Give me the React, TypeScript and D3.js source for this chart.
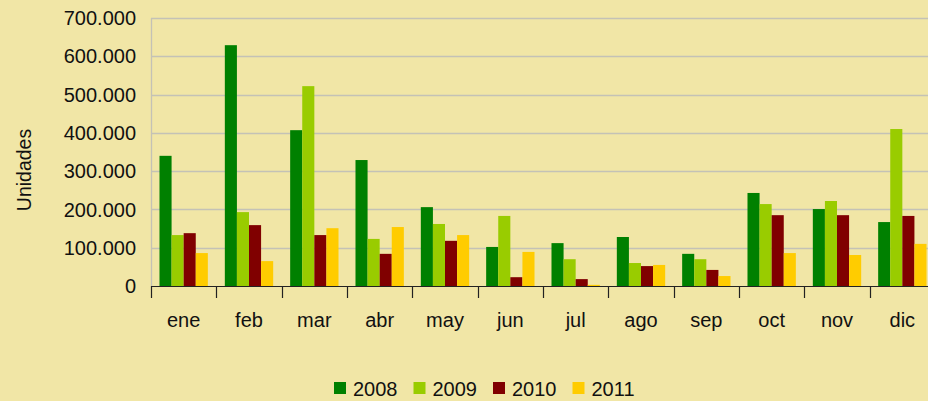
import * as d3 from 'd3';

const months = ['ene', 'feb', 'mar', 'abr', 'may', 'jun', 'jul', 'ago', 'sep', 'oct', 'nov', 'dic'];
const years = ['2008', '2009', '2010', '2011'];

const v2008 = [340000, 629000, 407000, 329000, 206000, 102000, 112000, 128000, 84000, 243000, 201000, 167000];
const v2009 = [133000, 193000, 522000, 123000, 162000, 183000, 70000, 60000, 70000, 214000, 222000, 410000];
const v2010 = [138000, 159000, 133000, 84000, 118000, 23000, 18000, 52000, 42000, 185000, 185000, 183000];
const v2011 = [86000, 65000, 151000, 154000, 133000, 89000, 3000, 55000, 26000, 86000, 81000, 110000];

const yTicks = [0, 100000, 200000, 300000, 400000, 500000, 600000, 700000];
const colors = ['#008000', '#99cc00', '#800000', '#ffcc00'];

const series = [v2008, v2009, v2010, v2011];

const width = 928;
const height = 401;
const left = 151;
const right = 935;
const top = 18;
const bottom = 286;

const fmt = (v: number) => (v === 0 ? '0' : d3.format(',')(v).replace(/,/g, '.'));

export default function App() {
  const x0 = d3.scaleBand().domain(months).range([left, right]).paddingInner(0.26).paddingOuter(0.13);
  const x1 = d3.scaleBand().domain(years).range([0, x0.bandwidth()]);
  const y = d3.scaleLinear().domain([0, 700000]).range([bottom, top]);
  const gap = (x0.step() - x0.bandwidth()) / 2;
  const legendX = d3.scaleBand().domain(years).range([334, 652]);

  return (
    <svg
      width={width}
      height={height}
      style={{ position: 'absolute', left: 0, top: 0 }}
      fontFamily="'Liberation Sans', Arial, sans-serif"
    >
      <rect width={width} height={height} fill="#f1e6a6" />

      {/* gridlines */}
      {yTicks.slice(1).map((t) => (
        <line key={t} x1={left} x2={width} y1={Math.round(y(t)) + 0.5} y2={Math.round(y(t)) + 0.5} stroke="#c4c2b6" strokeWidth={1.3} />
      ))}
      <line x1={left + 0.5} x2={left + 0.5} y1={top} y2={bottom} stroke="#c4c2b6" strokeWidth={1.3} />

      {/* y labels */}
      {yTicks.map((t) => (
        <text key={t} x={136} y={y(t)} dy="0.36em" textAnchor="end" fontSize={20} fill="#111">
          {fmt(t)}
        </text>
      ))}
      <text transform={`translate(31,170) rotate(-90)`} textAnchor="middle" fontSize={19.5} fill="#111">
        Unidades
      </text>

      {/* bars */}
      {months.map((m, i) => (
        <g key={m} transform={`translate(${x0(m)},0)`}>
          {series.map((s, j) => (
            <rect
              key={years[j]}
              x={x1(years[j])}
              y={y(s[i])}
              width={x1.bandwidth()}
              height={bottom - y(s[i])}
              fill={colors[j]}
            />
          ))}
        </g>
      ))}

      {/* x axis */}
      <line x1={left} x2={width} y1={bottom + 0.5} y2={bottom + 0.5} stroke="#222" strokeWidth={1.2} />
      {months.map((m) => (
        <line
          key={m}
          x1={Math.round((x0(m) as number) - gap) + 0.5}
          x2={Math.round((x0(m) as number) - gap) + 0.5}
          y1={bottom}
          y2={bottom + 12}
          stroke="#222"
          strokeWidth={1.2}
        />
      ))}
      {months.map((m) => (
        <text
          key={m}
          x={(x0(m) as number) + x0.bandwidth() / 2}
          y={327}
          textAnchor="middle"
          fontSize={20}
          fill="#111"
        >
          {m}
        </text>
      ))}

      {/* legend */}
      {years.map((yr, j) => (
        <g key={yr} transform={`translate(${legendX(yr)},0)`}>
          <rect x={0} y={382} width={12} height={12} fill={colors[j]} />
          <text x={19} y={396} fontSize={20} fill="#111">
            {yr}
          </text>
        </g>
      ))}
    </svg>
  );
}
